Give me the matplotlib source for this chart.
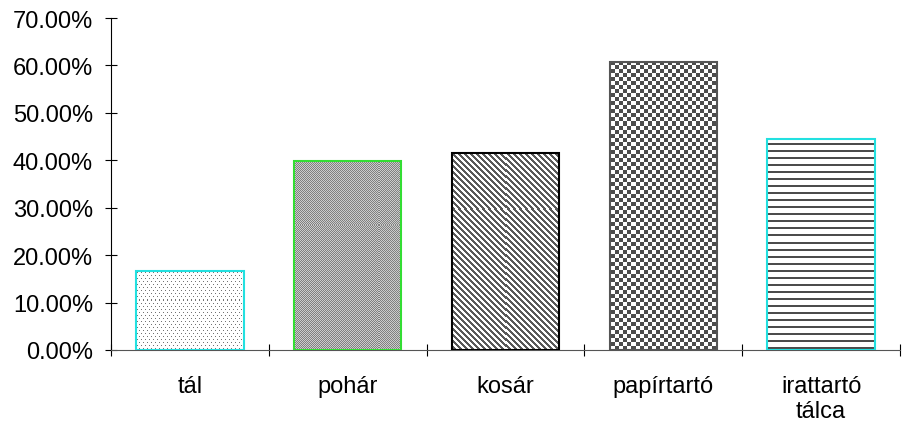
import numpy as np
import matplotlib
matplotlib.use('Agg')
import matplotlib.pyplot as plt
from matplotlib.ticker import FuncFormatter

plt.rcParams['font.family'] = ['Liberation Sans', 'DejaVu Sans']

categories = ['tál', 'pohár', 'kosár', 'papírtartó', 'irattartó\ntálca']
values = [16.7, 39.9, 41.6, 60.8, 44.5]
edges = ['#22e0e0', '#33dd33', '#000000', '#555555', '#22e0e0']
patterns = ['dots', 'fine', 'diag', 'checker', 'hlines']

fig = plt.figure(figsize=(9.04, 4.27), dpi=100)
ax = fig.add_axes([0.1228, 0.178, 0.8728, 0.7775])

x = np.arange(len(categories))
ax.set_xlim(-0.5, len(categories) - 0.5)
ax.set_ylim(0, 70)

# pixel size of axes, for the fill patterns
W = int(round(0.8728 * 904))
H = int(round(0.7775 * 427))
ii, jj = np.mgrid[0:H, 0:W]


def make_pattern(kind):
    img = np.ones((H, W))
    if kind == 'dots':
        mask = (ii % 3 == 0) & ((jj + 2 * (ii // 3 % 2)) % 4 == 0)
        img[mask] = 0.45
    elif kind == 'fine':
        img[:] = 0.8
        img[(ii + jj) % 2 == 0] = 0.5
    elif kind == 'diag':
        img[(jj - ii) % 6 < 3] = 0.35
    elif kind == 'checker':
        img[(ii // 4 + jj // 4) % 2 == 0] = 0.3
    elif kind == 'hlines':
        img[ii % 7 < 2] = 0.3
    return img


bars = ax.bar(x, values, width=0.68, facecolor='none', edgecolor=edges,
              linewidth=1.5, zorder=3)
for b, p in zip(bars, patterns):
    im = ax.imshow(make_pattern(p), cmap='gray', vmin=0, vmax=1,
                   extent=[0, 1, 0, 1], transform=ax.transAxes,
                   interpolation='nearest', aspect='auto', zorder=2)
    im.set_clip_path(b)

ax.set_xlim(-0.5, len(categories) - 0.5)
ax.set_ylim(0, 70)

ax.spines['top'].set_visible(False)
ax.spines['right'].set_visible(False)
ax.spines['bottom'].set_color('#555555')

ax.set_yticks(np.arange(0, 71, 10))
ax.yaxis.set_major_formatter(FuncFormatter(lambda v, pos: '%.2f%%' % v))
ax.tick_params(axis='y', direction='inout', length=8, labelsize=17, pad=9)

ax.set_xticks(np.arange(-0.5, len(categories), 1))
ax.set_xticklabels([])
ax.set_xticks(x, minor=True)
ax.set_xticklabels(categories, minor=True)
ax.tick_params(axis='x', which='major', direction='inout', length=8)
ax.tick_params(axis='x', which='minor', length=0, labelsize=17, pad=18)

fig.savefig('out.png', dpi=100)
